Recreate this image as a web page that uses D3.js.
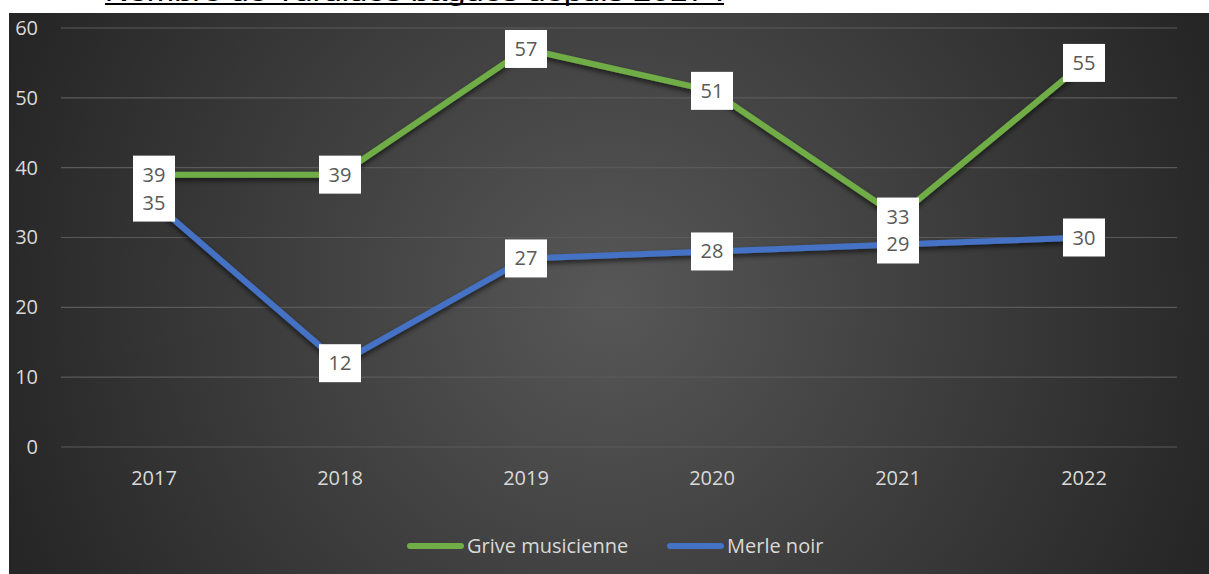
<!DOCTYPE html>
<html>
<head>
<meta charset="utf-8">
<script src="https://cdn.jsdelivr.net/npm/d3@7"></script>
<style>
  html, body { margin: 0; padding: 0; background: #ffffff; }
  svg { display: block; }
  text { font-family: "Open Sans", "Noto Sans", sans-serif; }
</style>
</head>
<body>
<div id="chart"></div>
<script>
var years = ["2017", "2018", "2019", "2020", "2021", "2022"];
var griveValues = [39, 39, 57, 51, 33, 55];
var merleValues = [35, 12, 27, 28, 29, 30];
var yTicks = [0, 10, 20, 30, 40, 50, 60];
var seriesNames = ["Grive musicienne", "Merle noir"];
var seriesColors = ["#70ad47", "#4472c4"];
var titleText = "Nombre de Turdidés bagués depuis 2017 :";

var W = 1209, H = 574;
var svg = d3.select("#chart").append("svg")
  .attr("width", W)
  .attr("height", H);

var defs = svg.append("defs");
var grad = defs.append("radialGradient")
  .attr("id", "bg")
  .attr("gradientUnits", "userSpaceOnUse")
  .attr("cx", 610).attr("cy", 300).attr("r", 640);
grad.append("stop").attr("offset", "0%").attr("stop-color", "#575757");
grad.append("stop").attr("offset", "100%").attr("stop-color", "#262626");

var shadow = defs.append("filter").attr("id", "shadow")
  .attr("x", "-10%").attr("y", "-10%").attr("width", "120%").attr("height", "130%");
shadow.append("feDropShadow")
  .attr("dx", 0).attr("dy", 3).attr("stdDeviation", 2.5)
  .attr("flood-color", "#000").attr("flood-opacity", 0.6);

// title (the page crops it at the top, like the source)
svg.append("text")
  .attr("x", 105).attr("y", 1)
  .attr("textLength", 619)
  .attr("lengthAdjust", "spacingAndGlyphs")
  .style("font-family", "Arial, 'Liberation Sans', sans-serif")
  .style("font-size", "24px")
  .attr("fill", "#000")
  .text(titleText);
svg.append("rect").attr("x", 105).attr("y", 3).attr("width", 619).attr("height", 2).attr("fill", "#000");

// chart area background
svg.append("rect")
  .attr("x", 9).attr("y", 13)
  .attr("width", W - 9).attr("height", H - 13)
  .attr("fill", "url(#bg)");

var x = d3.scaleBand().domain(years).range([61, 1177]);
var y = d3.scaleLinear().domain([0, 60]).range([447, 28]);

// grid
svg.append("g").selectAll("line").data(yTicks).join("line")
  .attr("x1", 61).attr("x2", 1177)
  .attr("y1", function(d) { return y(d); })
  .attr("y2", function(d) { return y(d); })
  .attr("stroke", "#5a5a5a")
  .attr("stroke-width", 1.2);

// y axis
var yAxis = svg.append("g")
  .attr("transform", "translate(38,0)")
  .call(d3.axisLeft(y).tickValues(yTicks).tickSize(0).tickPadding(0));
yAxis.select(".domain").remove();
yAxis.selectAll("text")
  .attr("fill", "#d9d9d9")
  .style("font-size", "20px")
  .style("font-family", "'Open Sans', 'Noto Sans', sans-serif");

// x axis
var xAxis = svg.append("g")
  .attr("transform", "translate(0,447)")
  .call(d3.axisBottom(x).tickSize(0).tickPadding(24));
xAxis.select(".domain").remove();
xAxis.selectAll("text")
  .attr("fill", "#d9d9d9")
  .style("font-size", "20px")
  .style("font-family", "'Open Sans', 'Noto Sans', sans-serif");

var series = [griveValues, merleValues];
var line = d3.line()
  .x(function(d, i) { return x(years[i]) + x.bandwidth() / 2; })
  .y(function(d) { return y(d); });

svg.append("g").selectAll("path").data(series).join("path")
  .attr("d", function(d) { return line(d); })
  .attr("fill", "none")
  .attr("stroke", function(d, i) { return seriesColors[i]; })
  .attr("stroke-width", 6)
  .attr("stroke-linejoin", "round")
  .attr("stroke-linecap", "round")
  .attr("filter", "url(#shadow)");

// data labels
var labels = [];
series.forEach(function(vals, s) {
  vals.forEach(function(v, i) {
    labels.push({ v: v, cx: x(years[i]) + x.bandwidth() / 2, cy: y(v) });
  });
});

var lg = svg.append("g");
lg.selectAll("rect").data(labels).join("rect")
  .attr("x", function(d) { return d.cx - 21; })
  .attr("y", function(d) { return d.cy - 19; })
  .attr("width", 42)
  .attr("height", 38)
  .attr("fill", "#ffffff");
lg.selectAll("text").data(labels).join("text")
  .attr("x", function(d) { return d.cx; })
  .attr("y", function(d) { return d.cy + 7; })
  .attr("text-anchor", "middle")
  .attr("fill", "#595959")
  .style("font-size", "20px")
  .text(function(d) { return d.v; });

// legend
var legendX = [407, 667];
var leg = svg.append("g").selectAll("g").data(seriesNames).join("g")
  .attr("transform", function(d, i) { return "translate(" + legendX[i] + ",546)"; });
leg.append("line")
  .attr("x1", 3).attr("x2", 54).attr("y1", 0).attr("y2", 0)
  .attr("stroke", function(d, i) { return seriesColors[i]; })
  .attr("stroke-width", 6)
  .attr("stroke-linecap", "round");
leg.append("text")
  .attr("x", 60).attr("y", 7)
  .attr("fill", "#d9d9d9")
  .style("font-size", "20px")
  .text(function(d) { return d; });
</script>
</body>
</html>
